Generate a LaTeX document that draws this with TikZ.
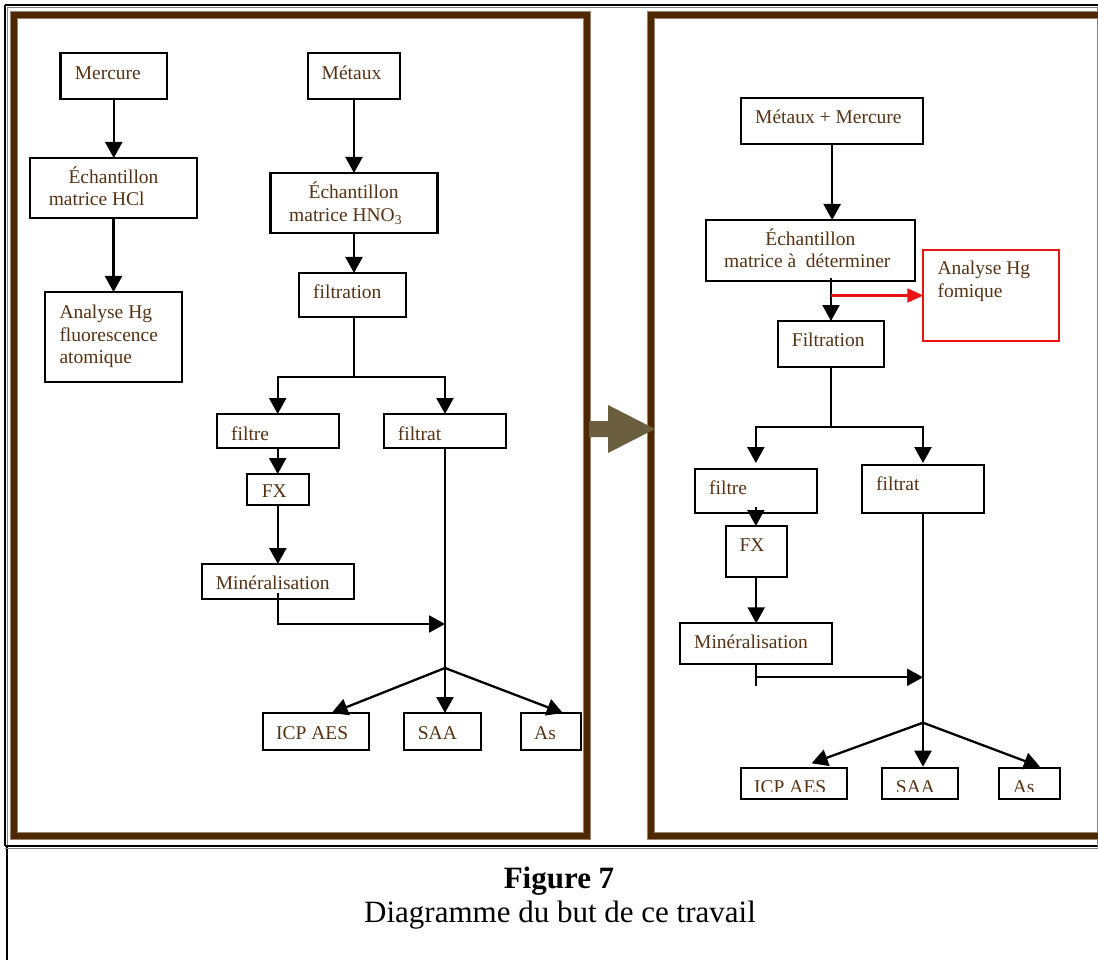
\documentclass[tikz,border=0pt]{standalone}
\usepackage{fontspec}
\setmainfont{Liberation Serif}
\usetikzlibrary{arrows.meta,calc}
\definecolor{brn}{RGB}{77,40,0}
\definecolor{brnedge}{RGB}{150,130,110}
\definecolor{txt}{RGB}{85,50,20}
\definecolor{olivearrow}{RGB}{107,94,62}
\definecolor{hgred}{RGB}{235,20,20}
\newcommand\mybox[5]{\node[box,minimum width={#4-#2},minimum height={#5-#3}] (#1) at (#2,#3) {};}
\begin{document}
\begin{tikzpicture}[x=1pt,y=-1pt,
 box/.style={draw=black,line width=2.3pt,inner sep=0pt,outer sep=0pt,anchor=north west},
 lbl/.style={text=txt,inner sep=0pt,anchor=base west,font=\fontsize{19.5}{22}\selectfont},
 clbl/.style={lbl,anchor=base},
 arr/.style={line width=2.3pt,-{Triangle[length=16pt,width=17pt]}},
 ln/.style={line width=2.3pt},
 frame/.style={line width=5.5pt,draw=brn},
 frameedge/.style={line width=7.5pt,draw=brnedge},
 caption/.style={inner sep=0pt,anchor=base,font=\fontsize{31}{36}\selectfont}
]
\useasboundingbox (0,0) rectangle (1098,960);
\clip (0,0) rectangle (1098,960);

% table lines
\draw[black,line width=1.5pt] (5,5) -- (1098,5);
\draw[gray,line width=1pt] (7.5,7.5) -- (1098,7.5);
\draw[black,line width=1.5pt] (5,5) -- (5,846);
\draw[gray,line width=1pt] (7.5,7.5) -- (7.5,846);
\draw[black,line width=2pt] (6.5,846) -- (6.5,960);
\draw[black,line width=2pt] (5,846) -- (1098,846);
\draw[gray,line width=1pt] (5,848.5) -- (1098,848.5);
\draw[gray,line width=1pt] (1097,7) -- (1097,846);

% brown frames
\draw[frameedge] (14,15) rectangle (587,836);
\draw[frame] (14,15) rectangle (587,836);
\draw[frameedge] (651,15) rectangle (1115,836);
\draw[frame] (651,15) rectangle (1115,836);

% olive arrow
\fill[olivearrow] (589,421) -- (608,421) -- (608,405) -- (655,429) -- (608,453) -- (608,437) -- (589,437) -- cycle;

% ---------- left panel boxes ----------
\mybox{merc}{60.5}{53}{167}{99}
\mybox{echA}{30}{158}{197}{218}
\mybox{anaA}{45}{292}{182}{382}
\mybox{met}{308}{53}{400}{99}
\mybox{hno}{270.6}{173}{437.4}{233}
\mybox{filt}{299}{273}{405.7}{317}
\mybox{fre}{216.7}{414}{338.7}{448}
\mybox{frt}{384}{414}{506}{448}
\mybox{fx}{247}{474}{308.7}{505}
\mybox{min}{201.7}{564}{354}{599}
\mybox{icp}{262.7}{713}{369.3}{750}
\mybox{saa}{404}{713}{480.7}{750}
\mybox{as}{520.7}{713}{581}{750}

% left texts
\node[lbl] (tmerc) at (74.6,79.3) {Mercure};
\node[lbl] (tmet) at (321.5,79.3) {Métaux};
\node[clbl] (techA1) at (113.5,183.3) {Échantillon};
\node[lbl] (techA2) at (48.6,205.7) {matrice HCl};
\node[clbl] (thno1) at (353.6,198.3) {Échantillon};
\node[lbl] (thno2) at (289,221.7) {matrice HNO\textsubscript{3}};
\node[lbl] (tfilt) at (313,298.3) {filtration};
\node[lbl] (tana1) at (59.3,318.3) {Analyse Hg};
\node[lbl] (tana2) at (59.3,341) {fluorescence};
\node[lbl] (tana3) at (59.3,363.3) {atomique};
\node[lbl] (tfre) at (231,440) {filtre};
\node[lbl] (tfrt) at (397.7,440) {filtrat};
\node[lbl] (tfx) at (261.7,497.7) {FX};
\node[lbl] (tmin) at (215.7,589.3) {Minéralisation};
\node[lbl] (ticp) at (276,739) {ICP AES};
\node[lbl] (tsaa) at (417.7,739) {SAA};
\node[lbl] (tas) at (534,739) {As};

% left connectors
\draw[arr] (merc.south) -- (merc.south |- echA.north);
\draw[arr] (echA.south) -- (echA.south |- anaA.north);
\draw[arr] (met.south) -- (met.south |- hno.north);
\draw[arr] (hno.south) -- (hno.south |- filt.north);
\coordinate (bA) at (354,377);
\draw[ln] (hno.south |- filt.south) -- (bA);
\draw[arr] (bA) -| (fre.north);
\draw[arr] (bA) -| (frt.north);
\draw[arr] (fre.south) -- (fre.south |- fx.north);
\draw[arr] (fx.south) -- (min.north);
\coordinate (sA) at (frt.south |- 0,668);
\coordinate (mA) at (frt.south |- 0,624);
\draw[arr] ([yshift=6pt]min.south) |- (mA);
\draw[ln] (frt.south) -- (sA);
\draw[arr] (sA) -- ([xshift=15.7pt]icp.north);
\draw[arr] (sA) -- (sA |- saa.north);
\draw[arr] (sA) -- ([xshift=12pt]as.north);

% ---------- right panel boxes ----------
\mybox{mm}{741}{98.3}{923.3}{144}
\mybox{ech}{705.7}{220}{915.3}{281}
\node[box,draw=hgred,line width=2pt,minimum width=136pt,minimum height=91pt] (hgR) at (923.3,250) {};
\mybox{filtB}{778}{321}{884}{366.7}
\mybox{freB}{695}{469}{816.7}{512.7}
\mybox{frtB}{862.3}{465}{983.7}{512.7}
\mybox{fxB}{725.7}{526}{786.7}{577.3}
\mybox{minB}{680}{623.3}{832.3}{664}
\mybox{icpB}{740.7}{768.3}{847}{799}
\mybox{saaB}{882.3}{768.3}{958.3}{799}
\mybox{asB}{998.7}{768.3}{1060}{799}

% right texts
\node[lbl] (tmm) at (755,124) {Métaux + Mercure};
\node[clbl] (tech1) at (810.3,245.7) {Échantillon};
\node[lbl] (tech2) at (724,267.7) {matrice à\ \ déterminer};
\node[lbl] (thg1) at (937.3,275) {Analyse Hg};
\node[lbl] (thg2) at (937.3,297.7) {fomique};
\node[lbl] (tfiltB) at (791.7,346.7) {Filtration};
\node[lbl] (tfreB) at (709,494) {filtre};
\node[lbl] (tfrtB) at (876,490) {filtrat};
\node[lbl] (tfxB) at (739.3,551) {FX};
\node[lbl] (tminB) at (694,648.3) {Minéralisation};
\begin{scope}
\clip (700,760) rectangle (1070,791.5);
\node[lbl] (ticpB) at (754,793.5) {ICP AES};
\node[lbl] (tsaaB) at (895.7,793.5) {SAA};
\node[lbl] (tasB) at (1012.7,793.5) {As};
\end{scope}

% right connectors
\draw[arr] (mm.south) -- (mm.south |- ech.north);
\draw[arr] ([yshift=3pt]filtB.north |- ech.south) -- (filtB.north);
\draw[line width=2.2pt,hgred,-{Triangle[length=16pt,width=14pt]}] (filtB.north |- hgR.west) -- (hgR.west);
\coordinate (bB) at (filtB.south |- 0,427.3);
\draw[ln] (filtB.south) -- (bB);
\draw[arr] (bB) -| ([yshift=6pt]freB.north);
\draw[arr] (bB) -| ([yshift=2pt]frtB.north);
\draw[arr] ([yshift=6pt]freB.south) -- (freB.south |- fxB.north);
\draw[arr] (fxB.south) -- (fxB.south |- minB.north);
\coordinate (mBend) at (minB.south |- 0,686);
\coordinate (mB) at (frtB.south |- 0,677.3);
\draw[ln] (minB.south) -- (mBend);
\draw[arr] (minB.south |- mB) -- (mB);
\coordinate (sB) at (frtB.south |- 0,722.7);
\draw[ln] (frtB.south) -- (sB);
\draw[arr] (sB) -- ([xshift=17.8pt,yshift=5pt]icpB.north);
\draw[arr] (sB) -- ([yshift=1.6pt]sB |- saaB.north);
\draw[arr] (sB) -- ([xshift=10.6pt,yshift=1.6pt]asB.north);

% caption
\node[caption,font=\bfseries\fontsize{31}{36}\selectfont] (fig) at (559,888) {Figure 7};
\node[caption] (cap) at (560,922) {Diagramme du but de ce travail};
\end{tikzpicture}
\end{document}
